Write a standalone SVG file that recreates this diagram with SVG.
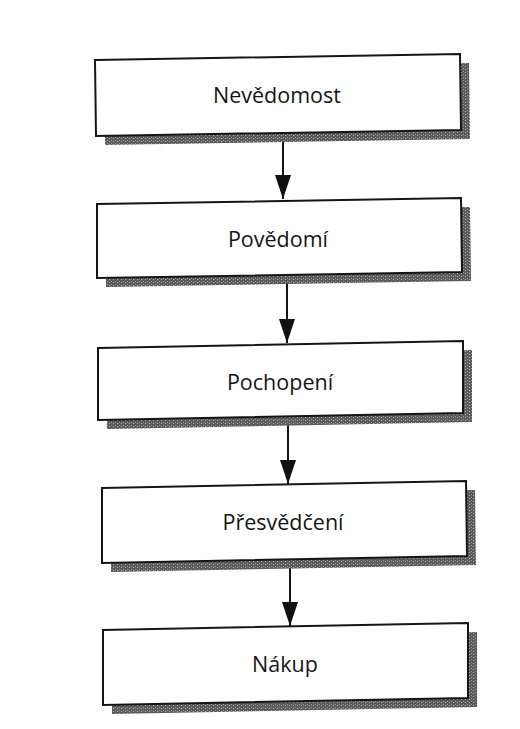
<svg xmlns="http://www.w3.org/2000/svg" width="520" height="729" viewBox="0 0 520 729">
  <defs>
    <!-- grainy stipple used for the drop shadows -->
    <pattern id="stipple" width="4" height="3" patternUnits="userSpaceOnUse">
      <rect width="4" height="3" fill="#5a5a5a"/>
      <rect x="1" y="0" width="1" height="1" fill="#b8b8b8"/>
      <rect x="3" y="2" width="1" height="1" fill="#9a9a9a"/>
    </pattern>
    <!-- solid arrowhead; tip sits at the line's end -->
    <marker id="head" markerWidth="24" markerHeight="16" refX="24" refY="8" orient="auto" markerUnits="userSpaceOnUse" viewBox="0 0 24 16">
      <path d="M0,0 L24,8 L0,16 Z" fill="#111"/>
    </marker>
  </defs>
  <style>
    .shadow { fill: url(#stipple); }
    .box { fill: #fff; stroke: #151515; stroke-width: 2; stroke-linejoin: miter; }
    .label { font-family: "Open Sans", "Noto Sans", "Liberation Sans", sans-serif; font-size: 21.5px; fill: #151515; text-anchor: middle; }
    .link { stroke: #151515; stroke-width: 2; fill: none; }
  </style>
  <rect width="520" height="729" fill="#fff"/>

  <g id="connectors">
    <line class="link" x1="283" y1="134" x2="283" y2="199" marker-end="url(#head)"/>
    <line class="link" x1="287" y1="276" x2="287" y2="343" marker-end="url(#head)"/>
    <line class="link" x1="288" y1="418" x2="288" y2="484" marker-end="url(#head)"/>
    <line class="link" x1="290" y1="561" x2="290" y2="626" marker-end="url(#head)"/>
  </g>

  <g id="nevedomost">
    <polygon class="shadow" points="104,69 469,63 470,139 105,145"/>
    <polygon class="box" points="95,60 460,54 461,130 96,136"/>
    <text class="label" x="277" y="103">Nevědomost</text>
  </g>

  <g id="povedomi">
    <polygon class="shadow" points="106,213 470,207 471,281 106,287"/>
    <polygon class="box" points="97,204 461,198 462,272 97,278"/>
    <text class="label" x="278" y="247">Povědomí</text>
  </g>

  <g id="pochopeni">
    <polygon class="shadow" points="107,357 472,350 472,422 107,429"/>
    <polygon class="box" points="98,348 463,341 463,413 98,420"/>
    <text class="label" x="280" y="390">Pochopení</text>
  </g>

  <g id="presvedceni">
    <polygon class="shadow" points="111,497 475,490 476,565 111,572"/>
    <polygon class="box" points="102,488 466,481 467,556 102,563"/>
    <text class="label" x="283" y="530">Přesvědčení</text>
  </g>

  <g id="nakup">
    <polygon class="shadow" points="112,639 477,632 477,707 112,714"/>
    <polygon class="box" points="103,630 468,623 468,698 103,705"/>
    <text class="label" x="285" y="672">Nákup</text>
  </g>
</svg>
